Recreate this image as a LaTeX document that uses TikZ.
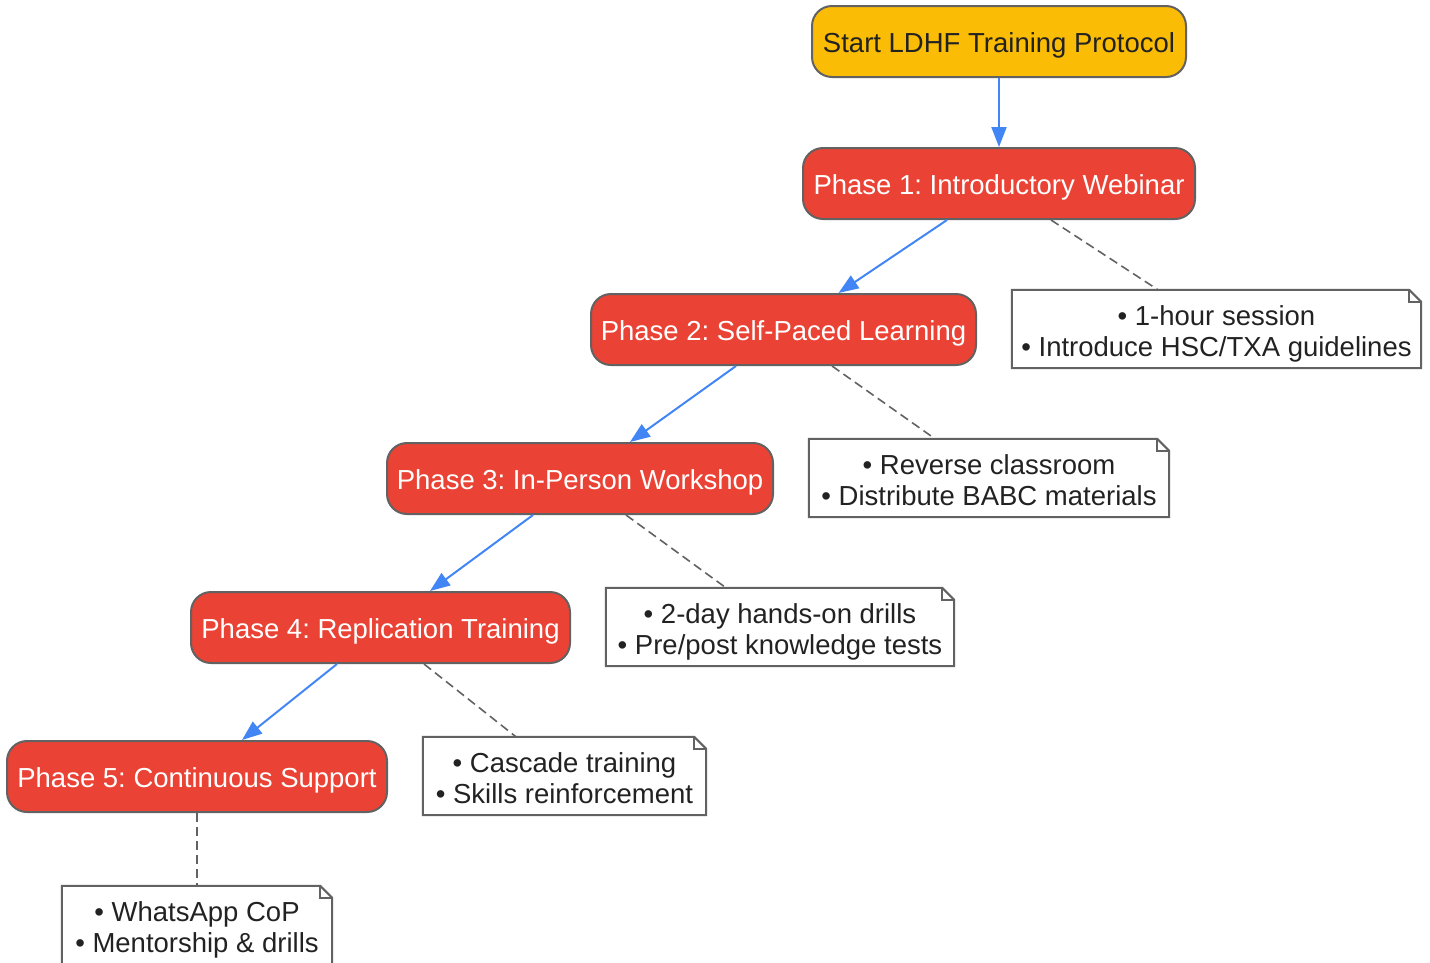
\documentclass[tikz,border=0pt]{standalone}
\usepackage{fontspec}
\setmainfont{Liberation Sans}
\usetikzlibrary{arrows.meta}
\definecolor{yel}{HTML}{FBBC05}
\definecolor{redf}{HTML}{EA4335}
\definecolor{blu}{HTML}{4285F4}
\definecolor{bord}{HTML}{626262}
\definecolor{txt}{HTML}{222222}
\frenchspacing
\newcommand\lw[2][-4pt]{\raisebox{#1}[\height][\depth]{#2}}
\newcommand\twolines[2]{\lw[-5.5pt]{\begin{tabular}{@{}c@{}}#1\\#2\end{tabular}}}
\begin{document}
\begin{tikzpicture}[x=1pt,y=-1pt,
 every node/.style={font=\fontsize{27.5}{31.5}\selectfont},
 phase/.style={rounded corners=20pt, draw=bord, line width=2pt, fill=redf, text=white, minimum height=71pt, inner sep=0pt},
 startbox/.style={phase, fill=yel, text=txt},
 note/.style={minimum height=78pt, inner sep=0pt, text=txt},
 flow/.style={blu, line width=2pt, -{Triangle[length=20pt,width=15pt]}},
 link/.style={bord, line width=1.6pt, dash pattern=on 9pt off 5pt},
 noteline/.style={bord, line width=2pt, line join=miter}]
\useasboundingbox (0,0) rectangle (1430,962);

\node[startbox, minimum width=374pt] (s) at (999,41.5) {\lw{Start LDHF Training Protocol}};
\node[phase, minimum width=392pt] (p1) at (999,183.5) {\lw{Phase 1: Introductory Webinar}};
\node[phase, minimum width=385pt] (p2) at (783.5,329.5) {\lw{Phase 2: Self-Paced Learning}};
\node[phase, minimum width=386pt] (p3) at (580,478.5) {\lw{Phase 3: In-Person Workshop}};
\node[phase, minimum width=379pt] (p4) at (380.5,627.5) {\lw{Phase 4: Replication Training}};
\node[phase, minimum width=380pt] (p5) at (197,776.5) {\lw{Phase 5: Continuous Support}};

\node[note, minimum width=409pt] (n1) at (1216.5,329) {\twolines{• 1-hour session}{• Introduce HSC/TXA guidelines}};
\node[note, minimum width=360pt] (n2) at (989,478) {\twolines{• Reverse classroom}{• Distribute BABC materials}};
\node[note, minimum width=348pt] (n3) at (780,627) {\twolines{• 2-day hands-on drills}{• Pre/post knowledge tests}};
\node[note, minimum width=283pt] (n4) at (564.5,776) {\twolines{• Cascade training}{• Skills reinforcement}};
\node[note, minimum width=270pt] (n5) at (197,925) {\twolines{• WhatsApp CoP}{• Mentorship \& drills}};

\foreach \n in {n1,n2,n3,n4,n5}{
  \draw[noteline] (\n.north west) -- ([xshift=-12pt]\n.north east) -- ([yshift=-12pt]\n.north east) -- (\n.south east) -- (\n.south west) -- cycle;
  \draw[noteline] ([xshift=-12pt]\n.north east) -- ([xshift=-12pt,yshift=-12pt]\n.north east) -- ([yshift=-12pt]\n.north east);
}

\draw[flow] (s.south) -- (p1.north);
\draw[flow] ([xshift=-52pt]p1.south) -- ([xshift=55pt]p2.north);
\draw[flow] ([xshift=-47.5pt]p2.south) -- ([xshift=50pt]p3.north);
\draw[flow] ([xshift=-47pt]p3.south) -- ([xshift=49.5pt]p4.north);
\draw[flow] ([xshift=-43.5pt]p4.south) -- ([xshift=45pt]p5.north);

\draw[link] ([xshift=52pt]p1.south) -- ([xshift=-58.5pt]n1.north);
\draw[link] ([xshift=48.5pt]p2.south) -- ([xshift=-54pt]n2.north);
\draw[link] ([xshift=46pt]p3.south) -- ([xshift=-54pt]n3.north);
\draw[link] ([xshift=43.5pt]p4.south) -- ([xshift=-48.5pt]n4.north);
\draw[link] (p5.south) -- (n5.north);
\end{tikzpicture}
\end{document}
